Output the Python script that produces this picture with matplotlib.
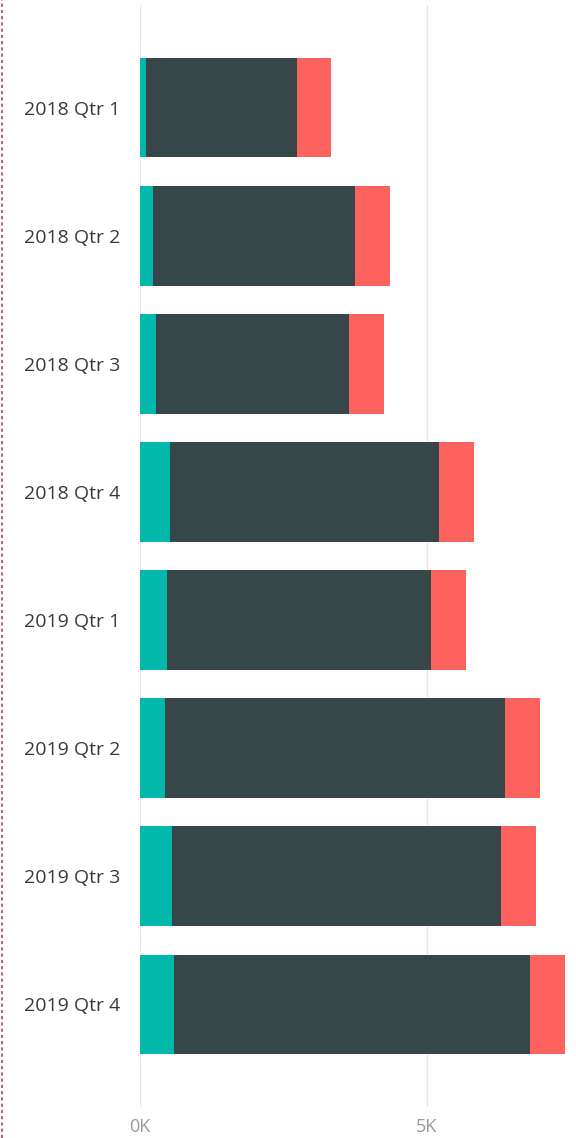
import numpy as np
import matplotlib.pyplot as plt
from matplotlib.lines import Line2D

# Datos
trimestres = ['2018 Qtr 1', '2018 Qtr 2', '2018 Qtr 3', '2018 Qtr 4',
              '2019 Qtr 1', '2019 Qtr 2', '2019 Qtr 3', '2019 Qtr 4']
serie_a = [105, 226, 279, 523, 470, 436, 557, 592]
serie_b = [2630, 3520, 3362, 4686, 4600, 5923, 5732, 6202]
serie_c = [593, 609, 610, 610, 609, 610, 610, 610]

colores = ['#01B8AA', '#374649', '#FD625E']

fig = plt.figure(figsize=(5.76, 11.38), dpi=100)
ax = fig.add_axes([140 / 576, 1 - 1107 / 1138, 436 / 576, 1102 / 1138])

y = np.arange(len(trimestres))
izq = np.zeros(len(trimestres))
for valores, color in zip([serie_a, serie_b, serie_c], colores):
    ax.barh(y, valores, left=izq, height=0.78, color=color, zorder=3)
    izq += np.array(valores)

ax.set_ylim(7.8, -0.8)
ax.set_xlim(0, 7600)
ax.set_yticks(y)
ax.set_yticklabels(trimestres, fontsize=14, color='#3a3a3a', family='Open Sans')
ax.set_xticks([0, 5000])
ax.set_xticklabels(['0K', '5K'], fontsize=13, color='#999999', family='Open Sans')
ax.tick_params(axis='y', length=0, pad=14)
ax.tick_params(axis='x', length=0, pad=8)
ax.grid(axis='x', color='#e6e6e6', linewidth=1, zorder=0)
for s in ax.spines.values():
    s.set_visible(False)

# Borde punteado a la izquierda
fig.add_artist(Line2D([1.5 / 576, 1.5 / 576], [0, 1], color='#c06070',
                      linewidth=1.5, linestyle=(0, (1.5, 1.5)),
                      transform=fig.transFigure))

fig.savefig('out.png', dpi=100)
